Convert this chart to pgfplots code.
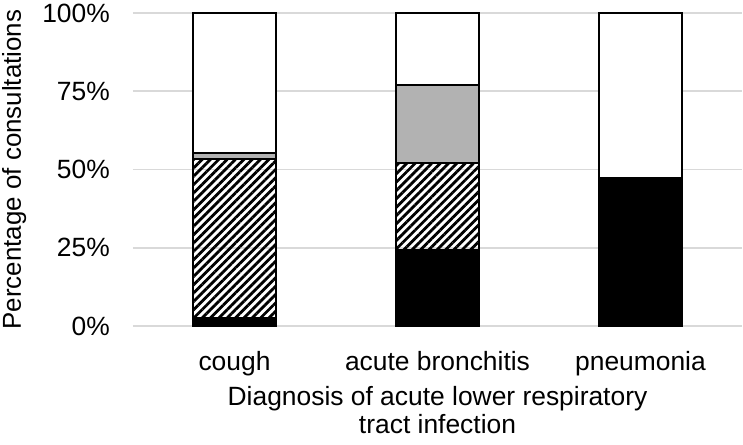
\documentclass[border=0pt]{standalone}
\usepackage{fontspec}
\setmainfont{Liberation Sans}
\usepackage{pgfplots}
\pgfplotsset{compat=1.18}
\usetikzlibrary{patterns.meta}

\begin{document}
\begin{tikzpicture}
\begin{axis}[
    name=ax,
    scale only axis,
    width=609bp, height=313bp,
    ybar stacked,
    bar width=0.41,
    xmin=-0.5, xmax=2.5,
    ymin=0, ymax=100,
    xtick=data,
    xticklabels={cough,acute bronchitis,pneumonia},
    ytick={0,25,50,75,100},
    yticklabels={0\%,25\%,50\%,75\%,100\%},
    /pgf/number format/assume math mode=true,
    axis line style={draw=none},
    major tick length=0pt,
    ymajorgrids,
    major grid style={draw=black!15, line width=1.5bp},
    tick label style={font=\fontsize{26.5}{28.5}\selectfont, inner sep=0pt},
    xticklabel style={anchor=base, yshift=-44bp},
    yticklabel style={anchor=east, xshift=-23bp},
    xlabel={Diagnosis of acute lower respiratory\\tract infection},
    every axis x label/.style={at={(axis description cs:0.5,0)}, anchor=north,
        yshift=-60bp, align=center, inner sep=0pt,
        font=\fontsize{26.5}{28.5}\selectfont},
    ylabel={Percentage of consultations},
    every axis y label/.style={at={(axis description cs:-0.195,0.5)}, rotate=90,
        anchor=center, inner sep=0pt, font=\fontsize{26}{28}\selectfont},
    every axis plot/.append style={draw=black, line width=1.5bp},
]
\addplot[fill=black] coordinates {(0,2.6) (1,24.3) (2,47.3)};
\addplot[pattern={Lines[angle=45,distance=5.9bp,line width=2.8bp]}, pattern color=black] coordinates {(0,50.8) (1,27.8) (2,0)};
\addplot[fill=black!30] coordinates {(0,1.9) (1,24.9) (2,0)};
\addplot[fill=white] coordinates {(0,44.7) (1,23.0) (2,52.7)};
\end{axis}
\pgfresetboundingbox
\path[use as bounding box] ([shift={(-133bp,-119bp)}]ax.south west) rectangle ++(743bp,445bp);
\end{tikzpicture}
\end{document}
